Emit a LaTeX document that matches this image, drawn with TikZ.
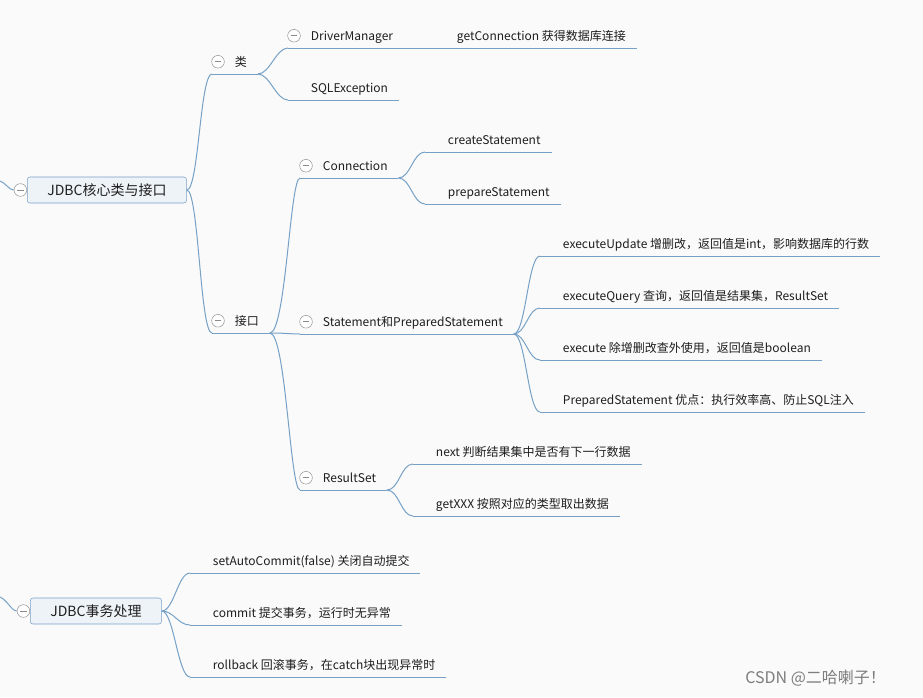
\documentclass[tikz,border=0pt]{standalone}
\usepackage{fontspec}
\setmainfont{Noto Sans CJK SC}
\usepackage{tikz}
\usetikzlibrary{positioning}

\definecolor{branchblue}{RGB}{118,160,198}
\definecolor{boxfill}{RGB}{238,243,248}
\definecolor{bgcol}{RGB}{250,250,250}
\definecolor{txt}{RGB}{30,30,30}
\definecolor{markgray}{RGB}{125,125,125}

\tikzset{
  branch/.style={draw=branchblue, line width=0.75pt},
  root/.style={draw=branchblue, fill=boxfill, rounded corners=2pt, anchor=west,
    inner xsep=15pt, minimum height=19.5pt, text=txt,
    font=\fontsize{10.5pt}{12pt}\selectfont},
  topic/.style={anchor=south west, inner xsep=8pt, inner ysep=3.6pt,
    text height=8.8pt, text depth=2pt, text=txt,
    font=\fontsize{9pt}{11pt}\selectfont,
    execute at begin node={\hspace*{9pt}}},
  fold/.style={circle, draw=gray!80, fill=white, inner sep=0pt, minimum size=9.5pt,
    path picture={\draw[gray!90, line width=0.6pt]
      ([xshift=2.2pt]path picture bounding box.west) --
      ([xshift=-2.2pt]path picture bounding box.east);}}
}

\begin{document}
\begin{tikzpicture}[x=0.75pt,y=0.75pt,yscale=-1,xscale=1]
        \useasboundingbox (0,0) rectangle (923,697);
        \fill[bgcol] (0,0) rectangle (923,697);

        % Root boxes
        \node[root] (c1) at (27,190) {JDBC核心类与接口};
        \node[root] (c2) at (30,611) {JDBC事务处理};

        % Topics of the first root
        \node[topic] (lei) at (212,74) {类};
        \node[topic] (dm) at (288,48) {DriverManager};
        \node[topic] (gc) at (434,48) {getConnection 获得数据库连接};
        \node[topic] (sqle) at (288,100) {SQLException};
        \node[topic] (jk) at (212,333) {接口};
        \node[topic] (con) at (300,178) {Connection};
        \node[topic] (cs) at (425,152) {createStatement};
        \node[topic] (ps) at (425,204) {prepareStatement};
        \node[topic] (st) at (300,334) {Statement和PreparedStatement};
        \node[topic] (eu) at (540,256) {executeUpdate 增删改，返回值是int，影响数据库的行数};
        \node[topic] (eq) at (540,308) {executeQuery 查询，返回值是结果集，ResultSet};
        \node[topic] (ex) at (540,360) {execute 除增删改查外使用，返回值是boolean};
        \node[topic] (pst) at (540,412) {PreparedStatement 优点：执行效率高、防止SQL注入};
        \node[topic] (rs) at (300,490) {ResultSet};
        \node[topic] (nx) at (413,464) {next 判断结果集中是否有下一行数据};
        \node[topic] (gx) at (413,516) {getXXX 按照对应的类型取出数据};

        % Topics of the second root
        \node[topic] (sac) at (190,573) {setAutoCommit(false) 关闭自动提交};
        \node[topic] (cm) at (190,625) {commit 提交事务，运行时无异常};
        \node[topic] (rb) at (190,677) {rollback 回滚事务，在catch块出现异常时};

        % Underlines
        \foreach \n in {lei,dm,gc,sqle,jk,con,cs,ps,st,eu,eq,ex,pst,rs,nx,gx,sac,cm,rb}
          \draw[branch] (\n.south west) -- (\n.south east);

        % Branches
        \foreach \b in {lei,jk}
          \draw[branch] (c1.east) .. controls +(12,0) and +(-12,0) .. (\b.south west);
        \foreach \b in {dm,sqle}
          \draw[branch] (lei.south east) .. controls +(12,0) and +(-12,0) .. (\b.south west);
        \draw[branch] (dm.south east) -- (gc.south west);
        \foreach \b in {con,st,rs}
          \draw[branch] (jk.south east) .. controls +(16,0) and +(-10,0) .. (\b.south west);
        \foreach \b in {cs,ps}
          \draw[branch] (con.south east) .. controls +(12,0) and +(-12,0) .. (\b.south west);
        \foreach \b in {eu,eq,ex,pst}
          \draw[branch] (st.south east) .. controls +(12,0) and +(-12,0) .. (\b.south west);
        \foreach \b in {nx,gx}
          \draw[branch] (rs.south east) .. controls +(12,0) and +(-12,0) .. (\b.south west);
        \foreach \b in {sac,cm,rb}
          \draw[branch] (c2.east) .. controls +(12,0) and +(-12,0) .. (\b.south west);

        % Fold buttons
        \node[fold, left=0pt of c1] (f-c1) {};
        \node[fold, left=0pt of c2] (f-c2) {};
        \foreach \n in {lei,dm,jk,con,st,rs}
          \node[fold] (f-\n) at ([xshift=4.5pt]\n.west) {};

        % Lines from the parent off the left edge
        \coordinate (in1) at (0,181);
        \coordinate (in2) at (0,597);
        \draw[branch] (in1) .. controls +(6,2) and +(-5,0) .. (f-c1.west);
        \draw[branch] (in2) .. controls +(7,3) and +(-5,0) .. (f-c2.west);

        % Watermark
        \node[anchor=west, text=markgray, inner sep=0pt, font=\fontsize{12pt}{14pt}\selectfont] (wm) at (745,678) {CSDN @二哈喇子！};
\end{tikzpicture}
\end{document}
